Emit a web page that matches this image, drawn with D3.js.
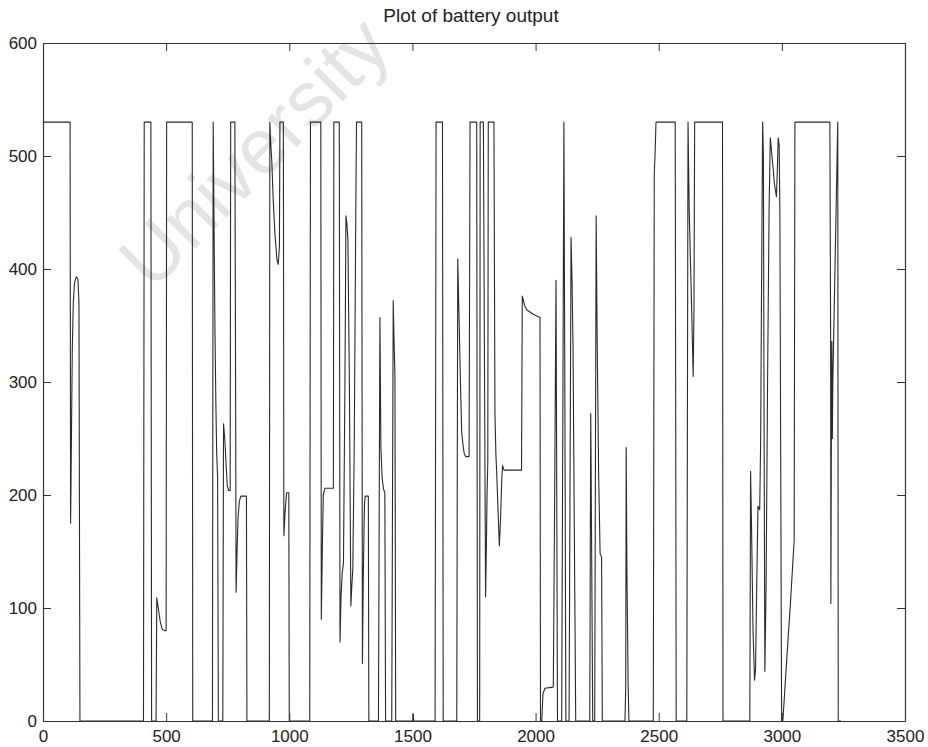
<!DOCTYPE html>
<html><head><meta charset="utf-8">
<script src="https://cdn.jsdelivr.net/npm/d3@7"></script>
<style>
body{margin:0;background:#fff}
svg{display:block}
text{font-family:"Liberation Sans",Arial,Helvetica,sans-serif}
</style>
</head><body>
<svg id="chart" width="928" height="747"></svg>
<script>
// ---- data ----
const timeSteps = [
0,110,112,115,119,123,128,135,142,146,150,
408,411,438,441,459,462,468,476,484,494,500,502,606,608,
688,691,694,698,702,705,709,712,730,733,738,744,748,754,760,762,779,782,784,788,792,797,803,826,828,
919,921,925,929,935,942,950,955,960,962,976,978,983,989,998,1000,
1083,1086,1128,1130,1134,1138,1145,1179,1181,1203,1206,1210,1215,1220,1226,1230,1234,1238,1244,1250,1254,1258,1264,1270,1273,1294,1297,1300,1305,1308,1321,1323,
1362,1368,1370,1372,1377,1383,1388,1391,1416,1422,1425,1429,1432,1502,1503.5,1505,
1592,1596,1622,1625,1680,1684,1690,1695,1700,1705,1710,1716,1730,1734,1761,1764,1773,1775,1788,1797,1800,1803,1806,1808,1831,
1835,1839,1842,1847,1853,1858,1863,1866,1872,1943,1946,1955,1964,1990,2018,2020,
2025,2030,2038,2072,2076,2083,2086,2089,2106,2115,2119,2123,2136,2144,2148,2152,2158,2163,
2220,2224,2228,2232,2240,2246,2250,2256,2262,2268,2271,2363,2366,2368,2371,2376,2379,
2478,2482,2485,2487,2489,2567,2571,2614,2619,2624,2632,2640,2643,2646,2759,2761,
2870,2873,2877,2883,2889,2893,2898,2903,2910,2914,2918,2922,2925,2928,2931,2936,2942,2948,2953,2960,2970,2978,2982,2985,2989,2992,2995,2999,
3004,3020,3035,3050,3053,3195,3198,3199,3201,3203,3205,3207,3227,3229,3240
];
const batteryOutput = [
530,530,175,240,330,370,388,393,391,370,0,
0,530,530,0,0,109,100,88,81,80,80,530,530,0,
0,530,450,350,280,239,215,0,0,263,250,225,208,204,204,530,530,300,114,150,180,194,199,199,0,
0,530,510,495,460,430,408,404,420,530,530,164,185,202,202,0,
0,530,530,90,150,200,206,206,530,530,70,110,131,140,300,447,440,426,300,102,120,135,250,450,530,530,51,120,190,199,199,0,
0,357,300,242,215,205,202,0,0,372,340,305,0,0,6,0,
0,530,530,0,0,409,350,300,256,245,237,234,234,530,530,0,0,530,530,110,150,200,228,530,530,
273,235,221,190,155,180,215,226,222,222,376,368,364,360,357,0,
0,24,29,30,150,390,200,0,0,530,280,0,0,428,390,332,150,0,
0,272,140,0,0,447,340,220,148,145,0,0,30,242,130,30,0,
0,485,500,515,530,530,0,0,530,450,380,305,360,530,530,0,
0,221,170,80,36,45,120,190,187,250,400,530,500,250,44,120,300,450,516,500,475,464,490,516,510,450,250,0,
0,55,105,160,530,530,336,104,250,336,250,300,530,0,0
];
const xTickValues = [0,500,1000,1500,2000,2500,3000,3500];
const yTickValues = [0,100,200,300,400,500,600];
const chartTitle = "Plot of battery output";
const watermarkText = "University";

// ---- layout ----
const svg = d3.select("#chart");
const x = d3.scaleLinear().domain([0,3500]).range([43,905]);
const y = d3.scaleLinear().domain([0,600]).range([721,43]);

// watermark (scan watermark, visible part only)
svg.append("text")
  .attr("transform","translate(152,292) rotate(-45)")
  .attr("font-size",78)
  .attr("fill","#e4e4e4")
  .text(watermarkText);

// series
const pts = timeSteps.map((t,i)=>[t,batteryOutput[i]]);
svg.append("path")
  .datum(pts)
  .attr("fill","none")
  .attr("stroke","#2a2a2a")
  .attr("stroke-width",1.1)
  .attr("stroke-linejoin","round")
  .attr("d", d3.line().x(d=>x(d[0])).y(d=>y(d[1])));

// axes
const fs = 17;
const gB = svg.append("g").attr("transform","translate(0,721)")
  .call(d3.axisBottom(x).tickValues(xTickValues).tickSizeInner(-8).tickSizeOuter(0).tickPadding(9).tickFormat(d3.format("d")));
const gL = svg.append("g").attr("transform","translate(43,0)")
  .call(d3.axisLeft(y).tickValues(yTickValues).tickSizeInner(-8).tickSizeOuter(0).tickPadding(6).tickFormat(d3.format("d")));
const gT = svg.append("g").attr("transform","translate(0,43)")
  .call(d3.axisTop(x).tickValues(xTickValues).tickSizeInner(-8).tickSizeOuter(0).tickFormat(""));
const gR = svg.append("g").attr("transform","translate(905,0)")
  .call(d3.axisRight(y).tickValues(yTickValues).tickSizeInner(-8).tickSizeOuter(0).tickFormat(""));
[gB,gL,gT,gR].forEach(g=>{
  g.selectAll("path.domain").attr("stroke","#333").attr("stroke-width",1.2);
  g.selectAll(".tick line").attr("stroke","#333").attr("stroke-width",1);
  g.selectAll(".tick text").attr("font-size",fs).attr("fill","#222")
    .attr("font-family","'Liberation Sans',Arial,Helvetica,sans-serif");
});

// title
svg.append("text")
  .attr("x",471).attr("y",22)
  .attr("text-anchor","middle")
  .attr("font-size",19)
  .attr("fill","#222")
  .text(chartTitle);
</script>
</body></html>
